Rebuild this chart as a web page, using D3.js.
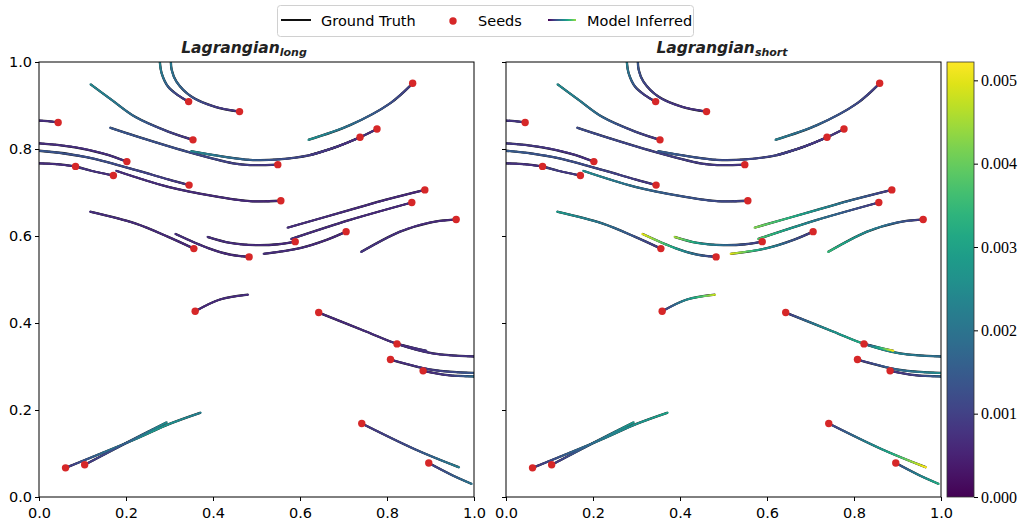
<!DOCTYPE html>
<html><head><meta charset="utf-8">
<script src="https://cdn.jsdelivr.net/npm/d3@7"></script>
<style>body{margin:0;background:#fff}</style>
</head><body>
<svg id="chart" width="1022" height="521" xmlns="http://www.w3.org/2000/svg"></svg>
<script>
// ---- data (first point of each trajectory is its seed) ----
const trajX = [
  [0.344,0.319,0.297,0.282,0.278,0.278],
  [0.461,0.405,0.351,0.316,0.305,0.303],
  [0.354,0.297,0.221,0.167,0.118],
  [0.044,0.02,-0.01],
  [0.549,0.485,0.447,0.34,0.221,0.163],
  [0.777,0.738,0.684,0.623,0.55,0.485,0.42,0.349],
  [0.738,0.684,0.623],
  [0.859,0.807,0.715,0.619],
  [0.202,0.15,0.083,0,-0.01],
  [0.345,0.297,0.221,0.106,0,-0.01],
  [0.084,0.04,0,-0.01],
  [0.171,0.12,0.084],
  [0.556,0.485,0.412,0.297,0.177],
  [0.356,0.297,0.221,0.117],
  [0.483,0.44,0.389,0.313],
  [0.589,0.55,0.50,0.44,0.387],
  [0.706,0.661,0.60,0.516],
  [0.887,0.80,0.715,0.571],
  [0.857,0.715,0.579],
  [0.959,0.899,0.83,0.740],
  [0.359,0.416,0.481],
  [0.643,0.753,0.823,0.906,1.0,1.01],
  [0.823,0.86,0.891],
  [0.808,0.906,1.0,1.01],
  [0.883,0.94,1.0,1.01],
  [0.061,0.217,0.30,0.372],
  [0.105,0.202,0.294],
  [0.742,0.868,0.966],
  [0.896,0.95,0.995]
];
const trajY = [
  [0.909,0.924,0.943,0.974,0.998,1.01],
  [0.886,0.897,0.920,0.955,0.982,1.01],
  [0.821,0.840,0.874,0.913,0.949],
  [0.861,0.864,0.866],
  [0.764,0.763,0.767,0.794,0.830,0.849],
  [0.846,0.827,0.805,0.786,0.776,0.775,0.783,0.795],
  [0.827,0.805,0.786],
  [0.951,0.905,0.855,0.821],
  [0.771,0.789,0.804,0.813,0.813],
  [0.717,0.730,0.752,0.782,0.796,0.796],
  [0.760,0.765,0.767,0.767],
  [0.739,0.750,0.760],
  [0.681,0.680,0.690,0.713,0.750],
  [0.571,0.598,0.629,0.656],
  [0.552,0.557,0.572,0.605],
  [0.587,0.581,0.579,0.584,0.598],
  [0.610,0.591,0.572,0.559],
  [0.706,0.684,0.660,0.619],
  [0.677,0.637,0.593],
  [0.638,0.631,0.610,0.563],
  [0.427,0.454,0.465],
  [0.424,0.380,0.352,0.330,0.323,0.323],
  [0.352,0.343,0.336],
  [0.316,0.292,0.285,0.285],
  [0.290,0.280,0.277,0.277],
  [0.067,0.131,0.168,0.194],
  [0.074,0.125,0.172],
  [0.169,0.108,0.068],
  [0.078,0.050,0.030]
];
// error along each trajectory (seed -> end), evenly spaced
const errLong = [
  [0.0007,0.0012,0.002,0.0024],[0.0007,0.001,0.0016,0.0022],[0.0007,0.0012,0.002,0.0024],
  [0.0007,0.0007],[0.0008,0.0012,0.0014],[0.0007,0.0009,0.0015,0.0024],[0.0007,0.0009],
  [0.0009,0.0016,0.0026],[0.0007,0.0007],[0.0008,0.0012,0.0014],[0.0007,0.0007],
  [0.0007,0.0008],[0.0006,0.0007],[0.0006,0.0007],[0.0006,0.0007],[0.0006,0.0007],
  [0.0006,0.0007],[0.0006,0.0007],[0.0006,0.0007],[0.0006,0.0008],[0.0006,0.0007],
  [0.0006,0.0007,0.0008],[0.0006,0.0008],[0.0006,0.0009,0.0015],[0.0006,0.0009,0.002],
  [0.0008,0.002,0.0028,0.0022],[0.0008,0.0015,0.0025],[0.0008,0.0012,0.0022],[0.0009,0.0014,0.002]
];
const errShort = [
  [0.0007,0.001,0.0018,0.0024],[0.0007,0.0008,0.001,0.0015],[0.0008,0.0012,0.002,0.0025],
  [0.0008,0.0008],[0.0008,0.001,0.0012],[0.0008,0.001,0.0012,0.0015],[0.0008,0.001],
  [0.0009,0.0014,0.0022],[0.0007,0.0009],[0.0008,0.0012,0.0015],[0.0007,0.0008],
  [0.0008,0.001],[0.001,0.0015,0.0025],[0.0008,0.0018,0.0028],[0.0008,0.002,0.0035,0.005],
  [0.0008,0.0015,0.0025,0.0045],[0.0008,0.0015,0.003,0.005],[0.0008,0.0018,0.003,0.0042],
  [0.0008,0.002,0.0038],[0.0008,0.0022,0.0035],[0.0008,0.0025,0.0048],
  [0.0008,0.0025,0.0032,0.0022,0.0018],[0.0008,0.003,0.0052],[0.0008,0.0018,0.0026],
  [0.0008,0.001,0.0018],[0.0008,0.0022,0.003],[0.0008,0.0018,0.0028],
  [0.0009,0.002,0.0032,0.0052],[0.0012,0.0022,0.0032]
];
const axisTicks = [0,0.2,0.4,0.6,0.8,1.0];
const cbTicks = [0,0.001,0.002,0.003,0.004,0.005];
const panelSubs = ["long","short"];
const legendLabels = ["Ground Truth","Seeds","Model Inferred"];
const vmax = 0.00522;

// ---- drawing ----
const svg = d3.select("#chart");
const defs = svg.append("defs");
const W = 435, yTop = 62, yBot = 497;
const panelX = [39, 506];
const titleX = [244, 722];
const color = v => d3.interpolateViridis(Math.max(0, Math.min(1, v / vmax)));
const FONT = "'DejaVu Sans', sans-serif";

panelX.forEach((x0, p) => {
  const errs = p === 0 ? errLong : errShort;
  const x = d3.scaleLinear().domain([0,1]).range([x0, x0 + W]);
  const y = d3.scaleLinear().domain([0,1]).range([yBot, yTop]);
  const g = svg.append("g");
  const cid = "clip" + p;
  defs.append("clipPath").attr("id", cid).append("rect")
    .attr("x", x0).attr("y", yTop).attr("width", W).attr("height", yBot - yTop);
  const plot = g.append("g").attr("clip-path", `url(#${cid})`);
  const line = d3.line().x(d => x(d[0])).y(d => y(d[1])).curve(d3.curveCatmullRom.alpha(0.5));
  const data = trajX.map((xs, i) => xs.map((v, j) => [v, trajY[i][j]]));
  // ground truth
  plot.selectAll("path.gt").data(data).join("path").attr("class","gt")
    .attr("d", line).attr("fill","none").attr("stroke","#111").attr("stroke-width",2.3);
  // model inferred, coloured by error
  data.forEach((pts, i) => {
    const path = plot.append("path").attr("d", line(pts)).attr("fill","none").attr("stroke","none");
    const node = path.node();
    const L = node.getTotalLength();
    const e = errs[i];
    const es = d3.scaleLinear().domain(e.map((_, k) => k / (e.length - 1))).range(e);
    const n = Math.max(2, Math.ceil(L / 1.5));
    const gm = plot.append("g");
    let prev = node.getPointAtLength(0);
    for (let k = 1; k <= n; k++) {
      const pt = node.getPointAtLength(L * k / n);
      gm.append("line").attr("x1", prev.x).attr("y1", prev.y).attr("x2", pt.x).attr("y2", pt.y)
        .attr("stroke", color(es((k - 0.5) / n))).attr("stroke-width", 1.8).attr("stroke-linecap","round");
      prev = pt;
    }
  });
  // seeds
  plot.selectAll("circle.seed").data(data).join("circle").attr("class","seed")
    .attr("cx", d => x(d[0][0])).attr("cy", d => y(d[0][1])).attr("r", 3.7).attr("fill", "#d62728");
  // axes
  const xa = g.append("g").attr("transform", `translate(0,${yBot})`)
    .call(d3.axisBottom(x).tickValues(axisTicks).tickFormat(d3.format(".1f")).tickSizeOuter(0).tickSize(4));
  const ya = g.append("g").attr("transform", `translate(${x0},0)`)
    .call(d3.axisLeft(y).tickValues(axisTicks).tickFormat(p === 0 ? d3.format(".1f") : () => "").tickSizeOuter(0).tickSize(4));
  [xa, ya].forEach(a => {
    a.select(".domain").remove();
    a.selectAll("text").attr("font-family", FONT).attr("font-size", 14.5).attr("fill","#000");
    a.selectAll("line").attr("stroke","#000");
  });
  xa.selectAll("text").attr("dy", "0.95em");
  g.append("rect").attr("x", x0).attr("y", yTop).attr("width", W).attr("height", yBot - yTop)
    .attr("fill","none").attr("stroke","#000").attr("stroke-width",1);
  // title
  const t = g.append("text").attr("x", titleX[p]).attr("y", 52.5).attr("text-anchor","middle")
    .attr("font-family", FONT).attr("font-weight","bold").attr("font-style","italic")
    .attr("font-size", 15.5).attr("fill","#222");
  t.append("tspan").text("Lagrangian");
  t.append("tspan").attr("font-size", 11).attr("dy", 3).text(panelSubs[p]);
});

// colorbar
const cb = defs.append("linearGradient").attr("id","cbgrad").attr("x1",0).attr("y1",1).attr("x2",0).attr("y2",0);
d3.range(0, 1.0001, 0.05).forEach(s => cb.append("stop").attr("offset", s).attr("stop-color", d3.interpolateViridis(s)));
const cbX = 947, cbW = 27;
svg.append("rect").attr("x", cbX).attr("y", yTop).attr("width", cbW).attr("height", yBot - yTop)
  .attr("fill","url(#cbgrad)").attr("stroke","#333").attr("stroke-width",0.8);
const cy = d3.scaleLinear().domain([0, vmax]).range([yBot, yTop]);
const cba = svg.append("g").attr("transform", `translate(${cbX + cbW},0)`)
  .call(d3.axisRight(cy).tickValues(cbTicks).tickFormat(d3.format(".3f")).tickSize(4).tickSizeOuter(0));
cba.select(".domain").remove();
cba.selectAll("text").attr("font-family","'Liberation Serif', 'DejaVu Serif', serif").attr("font-size",16).attr("fill","#000");
cba.selectAll("line").attr("stroke","#000");

// legend
const lg = svg.append("g");
lg.append("rect").attr("x",277.5).attr("y",5.5).attr("width",416).attr("height",31).attr("rx",3)
  .attr("fill","#fff").attr("stroke","#d0d0d0");
lg.append("line").attr("x1",281).attr("x2",311).attr("y1",20).attr("y2",20).attr("stroke","#111").attr("stroke-width",2);
lg.append("circle").attr("cx",453).attr("cy",21).attr("r",3.7).attr("fill","#d62728");
const lgGrad = defs.append("linearGradient").attr("id","lggrad");
d3.range(0, 1.0001, 0.1).forEach(s => lgGrad.append("stop").attr("offset", s).attr("stop-color", d3.interpolateViridis(s * 0.85)));
lg.append("rect").attr("x",548).attr("y",19).attr("width",28).attr("height",2).attr("fill","url(#lggrad)");
[321, 478, 587].forEach((lx, i) => lg.append("text").attr("x", lx).attr("y", 26)
  .attr("font-family", FONT).attr("font-size", 14.5).attr("fill","#000").text(legendLabels[i]));
</script>
</body></html>
